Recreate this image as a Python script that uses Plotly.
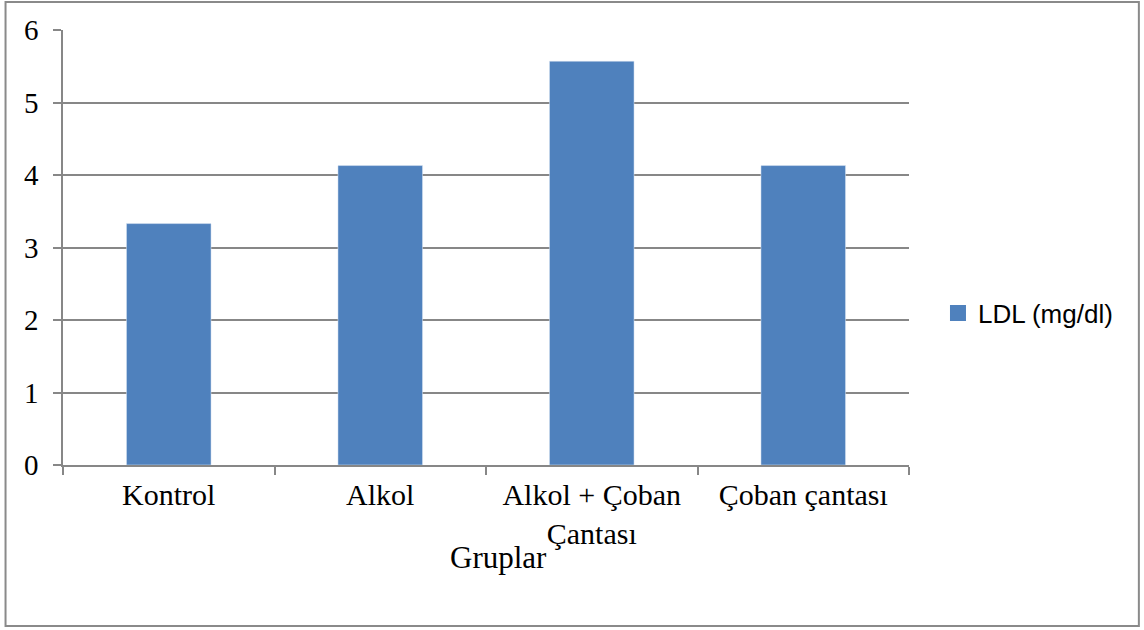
import plotly.graph_objects as go

# LDL by group
groups = ["Kontrol", "Alkol", "Alkol + Çoban<br>Çantası", "Çoban çantası"]
ldl = [3.33, 4.13, 5.57, 4.13]
series_name = "LDL (mg/dl)"
y_ticks = [0, 1, 2, 3, 4, 5, 6]
x_title = "Gruplar"

W, H = 1144, 630
L, R, T, B = 62.5, 235, 30, 165
pw, ph = W - L - R, H - T - B

def px_x(x):
    return (x - L) / pw

def px_y(y):
    return (H - B - y) / ph

grid = "#878787"
serif = "Liberation Serif"
bar_color = "#4F81BD"

fig = go.Figure()
fig.add_trace(go.Bar(
    x=groups, y=ldl, name=series_name,
    marker=dict(color=bar_color),
    width=0.4, showlegend=False,
))
# legend entry with a larger square key
fig.add_trace(go.Scatter(
    x=[None], y=[None], mode="markers", name=series_name,
    marker=dict(symbol="square", size=17, color=bar_color),
))

fig.update_layout(
    width=W, height=H,
    margin=dict(l=L, r=R, t=T, b=B, pad=0),
    paper_bgcolor="white", plot_bgcolor="white",
    showlegend=True,
    legend=dict(
        x=px_x(938), y=px_y(313), xanchor="left", yanchor="middle",
        font=dict(family="Liberation Sans", size=26, color="black"),
        itemwidth=30, itemsizing="trace", bgcolor="rgba(0,0,0,0)",
    ),
    xaxis=dict(
        type="category",
        showline=True, linecolor=grid, linewidth=1.5,
        ticks="outside", tickson="boundaries", ticklen=8, tickcolor=grid, tickwidth=1.5,
        tickfont=dict(family=serif, size=30, color="black"),
        ticklabelstandoff=2,
        showgrid=False,
    ),
    yaxis=dict(
        range=[0, 6], tickvals=y_ticks,
        showline=True, linecolor=grid, linewidth=1.5,
        ticks="outside", ticklen=8, tickcolor=grid, tickwidth=1.5,
        showgrid=True, gridcolor=grid, gridwidth=1.5,
        zeroline=False,
        tickfont=dict(family=serif, size=29, color="black"),
        ticklabelstandoff=9,
    ),
    bargap=0.6,
    annotations=[dict(
        text=x_title, xref="paper", yref="paper",
        x=px_x(498), y=px_y(557), xanchor="center", yanchor="middle",
        showarrow=False, font=dict(family=serif, size=31, color="black"),
    )],
    shapes=[dict(
        type="rect", xref="paper", yref="paper",
        x0=px_x(5), x1=px_x(1139), y0=px_y(626), y1=px_y(2),
        line=dict(color="#8a8a8a", width=2), fillcolor="rgba(0,0,0,0)",
        layer="below",
    )],
)

fig.write_html("out.html")
